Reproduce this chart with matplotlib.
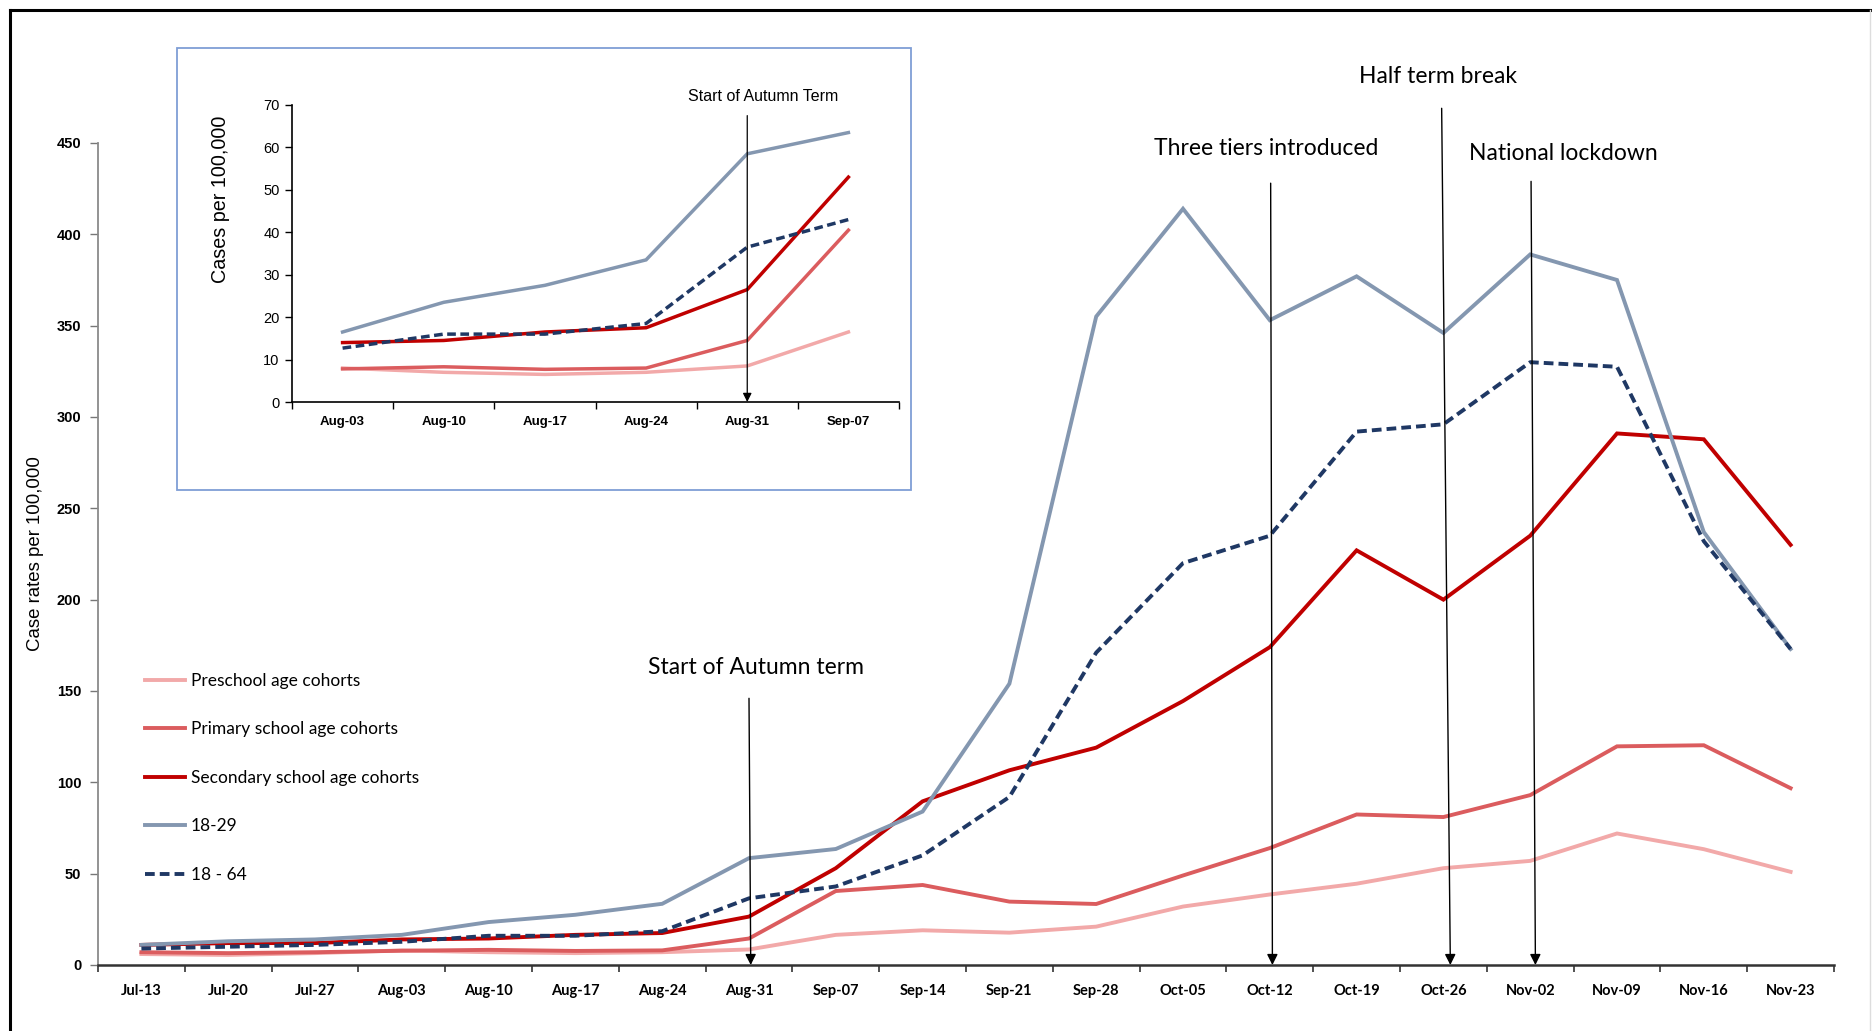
import matplotlib
matplotlib.use("Agg")
import matplotlib.pyplot as plt
import numpy as np
from matplotlib.lines import Line2D
from matplotlib.patches import Rectangle

# ---- data -------------------------------------------------------------
weeks = ["Jul-13", "Jul-20", "Jul-27", "Aug-03", "Aug-10", "Aug-17", "Aug-24",
         "Aug-31", "Sep-07", "Sep-14", "Sep-21", "Sep-28", "Oct-05", "Oct-12",
         "Oct-19", "Oct-26", "Nov-02", "Nov-09", "Nov-16", "Nov-23"]

preschool = [6, 5.5, 6.5, 8, 7, 6.5, 7, 8.5, 16.5, 19, 17.7, 21, 32, 38.6,
             44.5, 53, 57, 72, 63.4, 51]
primary = [7, 6.5, 7, 7.8, 8.3, 7.7, 8, 14.5, 40.5, 43.8, 34.7, 33.4, 49, 64,
           82.4, 81, 93, 119.7, 120.3, 96.8]
secondary = [11, 12, 12, 14, 14.5, 16.5, 17.5, 26.5, 53, 89.6, 106.6, 119,
             144.5, 174, 227, 200, 235, 291, 287.8, 230]
age_18_29 = [11, 13, 14, 16.5, 23.5, 27.5, 33.5, 58.5, 63.5, 84, 154, 355,
             414, 353, 377, 346, 389, 375, 237, 173]
age_18_64 = [9, 10, 11, 12.7, 16, 16, 18.5, 36.5, 43, 60, 92, 171, 220, 235,
             292, 296, 330, 327.5, 232, 173]

series_labels = ["Preschool age cohorts", "Primary school age cohorts",
                 "Secondary school age cohorts", "18-29", "18 - 64"]

# inset: the weeks around the start of term
inset_weeks = weeks[3:9]
inset_start, inset_end = 3, 9

# event markers: (label, label x, label y, arrow top x, arrow top y, arrow tip x)
events = [
    ("Start of Autumn term", 7.08, 163, 7.0, 146, 7.02),
    ("Three tiers introduced", 12.96, 447, 13.01, 428, 13.03),
    ("Half term break", 14.94, 486.5, 14.98, 469, 15.08),
    ("National lockdown", 16.38, 444, 16.01, 429, 16.06),
]

# ---- styles -----------------------------------------------------------
colors = ["#F2A9A9", "#DB5C5E", "#C00000", "#8497B0", "#1F3864"]
styles = ["-", "-", "-", "-", (0, (2.5, 1.3))]

SANS = ["Liberation Sans", "DejaVu Sans"]
CALI = ["Lato", "DejaVu Sans"]

fig = plt.figure(figsize=(18.72, 10.31), dpi=100)
fig.patch.set_facecolor("white")

# ---- main chart -------------------------------------------------------
ax_w = (1834 - 98) / 1872
ax = fig.add_axes([98 / 1872, 1 - 965 / 1031, ax_w, (965 - 143) / 1031])
x = np.arange(len(weeks))
all_series = [preschool, primary, secondary, age_18_29, age_18_64]
handles = []
for vals, c, ls, lab in zip(all_series, colors, styles, series_labels):
    h, = ax.plot(x, vals, color=c, lw=2.8, ls=ls, label=lab,
                 solid_joinstyle="miter", zorder=3)
    handles.append(h)

ax.set_xlim(-0.5, len(weeks) - 0.5)
ax.set_ylim(0, 450)
ax.set_yticks(np.arange(0, 451, 50))
ax.set_xticks(x)
ax.set_xticklabels(weeks, family=CALI, fontsize=10.5, fontweight="bold")
ax.set_xticks(np.arange(-0.5, len(weeks), 1), minor=True)
ax.tick_params(axis="x", which="major", length=0, pad=14)
ax.tick_params(axis="x", which="minor", length=5, width=1.2, direction="out",
               color="#333333")
ax.tick_params(axis="y", length=6, width=1, color="#777777", pad=6)
for t in ax.get_yticklabels():
    t.set_family(SANS)
    t.set_fontsize(10.5)
    t.set_fontweight("bold")
for s in ("top", "right"):
    ax.spines[s].set_visible(False)
ax.spines["left"].set_color("#8a8a8a")
ax.spines["left"].set_linewidth(1.3)
ax.spines["bottom"].set_color("#333333")
ax.spines["bottom"].set_linewidth(1.8)
ax.set_ylabel("Case rates per 100,000", family=SANS, fontsize=13.4)
ax.yaxis.label.set_va("center")
ax.yaxis.set_label_coords(-(98 - 36) / 1872 / ax_w, 0.5)

for label, tx, ty, ax0, ay0, ax1 in events:
    ax.annotate("", xy=(ax1, 0), xytext=(ax0, ay0),
                arrowprops=dict(arrowstyle="-|>", color="black", lw=1.0,
                                mutation_scale=16, shrinkA=0, shrinkB=0),
                annotation_clip=False, zorder=5)
    ax.text(tx, ty, label, family=CALI, fontsize=16.5, ha="center",
            va="center", clip_on=False)

leg = ax.legend(handles=handles, loc="upper left",
                bbox_to_anchor=(138 / 1872, 1 - 666 / 1031),
                bbox_transform=fig.transFigure, frameon=False,
                prop=dict(family=CALI, size=12.5), handlelength=2.3,
                handletextpad=0.35, labelspacing=1.87, borderaxespad=0)

# ---- inset ------------------------------------------------------------
fig.add_artist(Rectangle((177 / 1872, 1 - 490 / 1031), 734 / 1872, 442 / 1031,
                         transform=fig.transFigure, facecolor="white",
                         edgecolor="#7F9ED6", lw=1.3, zorder=4))
ins_w = (899 - 292) / 1872
ins_h = (402 - 105) / 1031
ins = fig.add_axes([292 / 1872, 1 - 402 / 1031, ins_w, ins_h], zorder=5)
ins.patch.set_alpha(0)
xi = np.arange(len(inset_weeks))
for vals, c, ls in zip(all_series, colors, styles):
    ins.plot(xi, vals[inset_start:inset_end], color=c, lw=2.5, ls=ls,
             solid_joinstyle="miter")
ins.set_xlim(-0.5, len(inset_weeks) - 0.5)
ins.set_ylim(0, 70)
ins.set_yticks(np.arange(0, 71, 10))
ins.set_xticks(xi)
ins.set_xticklabels(inset_weeks, family=SANS, fontsize=9.5, fontweight="bold")
ins.set_xticks(np.arange(-0.5, len(inset_weeks), 1), minor=True)
ins.tick_params(axis="x", which="major", length=0, pad=10)
ins.tick_params(axis="x", which="minor", length=5, width=1, direction="out")
ins.tick_params(axis="y", length=5, width=1, pad=4)
for t in ins.get_yticklabels():
    t.set_family(SANS)
    t.set_fontsize(10.5)
for s in ("top", "right"):
    ins.spines[s].set_visible(False)
ins.spines["left"].set_linewidth(1.2)
ins.spines["bottom"].set_linewidth(1.2)
ins.set_ylabel("Cases per 100,000", family=SANS, fontsize=14.2)
ins.yaxis.label.set_va("center")
ins.yaxis.set_label_coords(-(292 - 221) / 1872 / ins_w, (402 - 199) / 1031 / ins_h)
ins.annotate("", xy=(4, 0), xytext=(4, 67.5),
             arrowprops=dict(arrowstyle="-|>", color="black", lw=0.9,
                             mutation_scale=13, shrinkA=0, shrinkB=0),
             annotation_clip=False)
ins.text(4.16, 72, "Start of Autumn Term", family=SANS, fontsize=11.5,
         ha="center", va="center", clip_on=False)

# ---- outer frame ------------------------------------------------------
fig.add_artist(Line2D([10 / 1872, 10 / 1872], [0, 1 - 10 / 1031],
                      transform=fig.transFigure, color="black", lw=2.2))
fig.add_artist(Line2D([10 / 1872, 1], [1 - 10 / 1031, 1 - 10 / 1031],
                      transform=fig.transFigure, color="black", lw=2.2))
fig.add_artist(Line2D([1870 / 1872, 1870 / 1872], [0, 1 - 10 / 1031],
                      transform=fig.transFigure, color="#dddddd", lw=1))

fig.savefig("out.png", dpi=100, facecolor="white")
